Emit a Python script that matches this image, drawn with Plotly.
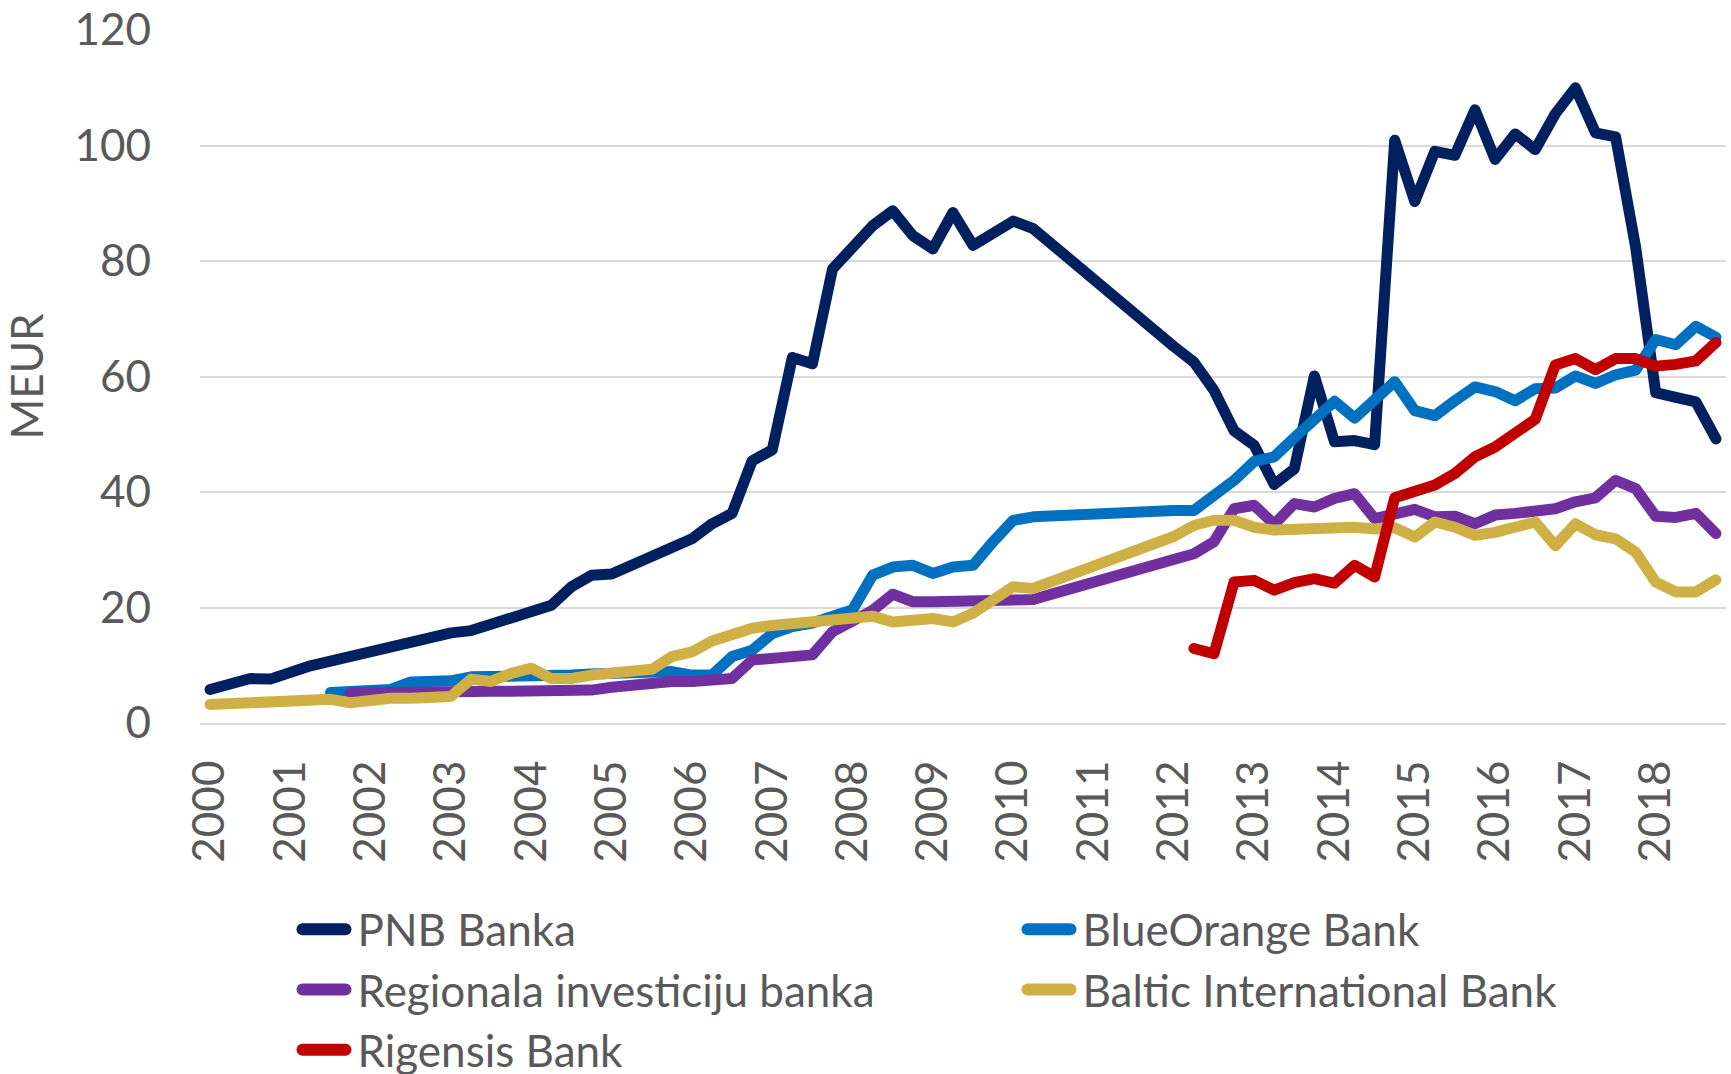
import plotly.graph_objects as go

years = list(range(2000, 2019))
quarters = [f"{y} Q{q}" for y in years for q in range(1, 5)]
tick_vals = [f"{y} Q1" for y in years]
tick_text = [str(y) for y in years]

N = None
pnb = [5.8, 7.0, 7.7, 7.6, 8.9, 9.9, 10.7, 11.5, 12.5, 13.3, 13.8, 14.8, 15.6, 16.0, 17.1, 18.1,
       19.4, 20.4, 23.6, 25.6, 25.8, 27.3, 29.2, 30.2, 31.9, 34.5, 36.3, 45.4, 47.3, 63.3, 62.2, 78.6,
       82.1, 86.1, 88.7, 84.4, 82.1, 88.4, 82.7, 85.0, 86.9, 85.6, 82.6, 79.8, 76.8, 74.0, 71.0, 68.1,
       65.2, 62.5, 57.6, 50.6, 48.1, 41.3, 44.0, 60.1, 48.7, 48.9, 48.2, 100.9, 90.3, 99.0, 98.3, 106.2,
       97.6, 102.0, 99.3, 105.5, 110.0, 102.2, 101.5, 82.4, 57.2, 56.4, 55.6, 49.2]

blueorange = [N, N, N, N, N, N, 5.3, 5.4, 5.6, 5.8, 7.1, 7.2, 7.3, 8.0, 8.0, 8.1,
              8.0, 8.0, 8.3, 8.5, 8.6, 8.7, 8.9, 8.9, 8.3, 8.3, 11.5, 12.6, 15.5, 16.7, 17.3, 18.4,
              19.6, 25.6, 27.0, 27.3, 25.9, 27.0, 27.3, 31.4, 35.1, 35.7, 35.9, 36.0, 36.2, 36.4, 36.5, 36.7,
              36.8, 36.8, 39.3, 42.0, 45.3, 46.1, 49.4, 52.8, 55.7, 52.8, 56.2, 59.1, 54.1, 53.2, 55.8, 58.2,
              57.4, 55.8, 57.9, 58.0, 60.1, 58.8, 60.3, 61.1, 66.4, 65.5, 68.7, 66.8]

regionala = [N, N, N, N, N, N, N, 5.2, 5.3, 5.4, 5.4, 5.4, 5.5, 5.5, 5.5, 5.5,
             5.6, 5.5, 5.5, 5.7, 6.2, 6.6, 7.0, 7.2, 7.2, 7.4, 7.7, 10.9, 11.2, 11.5, 11.8, 15.8,
             17.5, 19.5, 22.3, 21.0, 21.0, 21.2, 21.2, 21.2, 21.3, 21.4, 22.4, 23.4, 24.4, 25.4, 26.4, 27.4,
             28.4, 29.3, 31.4, 37.1, 37.7, 34.4, 38.0, 37.4, 38.9, 39.7, 35.4, 36.0, 37.0, 35.7, 35.8, 34.5,
             36.0, 36.3, 36.5, 37.1, 38.3, 39.0, 42.0, 40.6, 35.8, 35.6, 36.3, 32.8]

baltic = [3.2, 3.3, 3.7, 3.7, 3.5, 3.7, 4.1, 3.5, 4.1, 4.3, 4.3, 4.5, 4.6, 7.6, 7.2, 8.6,
          9.5, 7.7, 7.7, 8.3, 8.7, 9.3, 9.3, 11.5, 12.3, 14.2, 15.2, 16.4, 16.9, 17.2, 17.4, 17.5,
          18.0, 18.5, 17.5, 17.8, 18.1, 17.5, 19.0, 21.3, 23.6, 23.3, 24.6, 25.9, 27.2, 28.5, 29.8, 31.1,
          32.3, 34.2, 35.1, 35.1, 33.9, 33.4, 33.6, 33.9, 33.8, 33.9, 33.6, 33.8, 32.2, 34.8, 33.9, 32.5,
          33.0, 34.0, 34.8, 30.7, 34.5, 32.6, 31.9, 29.6, 24.4, 22.7, 22.7, 24.8]

rigensis = [N] * 49 + [12.9, 12.0, 24.4, 24.7, 23.0, 24.3, 25.0, 24.2, 27.3, 25.3, 39.0, 40.0, 41.2, 43.2,
                      46.1, 47.8, 50.1, 52.6, 62.0, 63.1, 61.2, 63.1, 63.1, 61.8, 62.1, 62.7, 65.9]

series = [
    ("PNB Banka", pnb, "#002060"),
    ("BlueOrange Bank", blueorange, "#0070C0"),
    ("Regionala investiciju banka", regionala, "#7030A0"),
    ("Baltic International Bank", baltic, "#CFB045"),
    ("Rigensis Bank", rigensis, "#C00000"),
]

FONT = "Lato, 'Open Sans', sans-serif"
GREY = "#595959"

fig = go.Figure()
for name, vals, col in series:
    fig.add_trace(go.Scatter(
        x=quarters, y=vals, name=name, mode="lines",
        line=dict(color=col, width=11),
        connectgaps=False,
    ))

fig.update_layout(
    width=1731, height=1074,
    margin=dict(l=200, r=5, t=30, b=351, autoexpand=False),
    paper_bgcolor="white", plot_bgcolor="white",
    font=dict(family=FONT, size=44, color=GREY),
    showlegend=True,
    legend=dict(
        orientation="h", x=0.077, xanchor="left", y=-0.247, yanchor="top",
        entrywidth=680, entrywidthmode="pixels",
        font=dict(family=FONT, size=44, color=GREY),
        bgcolor="rgba(0,0,0,0)", itemwidth=30,
    ),
)
fig.update_xaxes(
    type="category", categoryorder="array", categoryarray=quarters,
    range=[-0.5, len(quarters) - 0.5],
    tickmode="array", tickvals=tick_vals, ticktext=tick_text,
    tickangle=-90, tickfont=dict(family=FONT, size=44, color=GREY),
    showgrid=False, showline=True, linecolor="#d9d9d9", linewidth=2,
    ticks="", ticklabelstandoff=18,
)
fig.update_yaxes(
    range=[0, 120], dtick=20, tick0=0,
    showgrid=True, gridcolor="#d9d9d9", gridwidth=2,
    zeroline=False, showline=False, ticks="",
    tickfont=dict(family=FONT, size=44, color=GREY),
    ticklabelstandoff=48,
    title=dict(text="MEUR", font=dict(family=FONT, size=44, color=GREY), standoff=20),
)

post = """
document.documentElement.style.margin='0';
document.body.style.margin='0';
document.body.style.padding='0';
var gd = document.getElementById('{plot_id}');
function restyleLines(){
  gd.querySelectorAll('.scatterlayer path.js-line').forEach(function(p){
    p.style.strokeLinejoin='round'; p.style.strokeLinecap='round';
  });
  gd.querySelectorAll('.legend [clip-path]').forEach(function(e){
    e.removeAttribute('clip-path');
  });
  gd.querySelectorAll('.legend path.js-line').forEach(function(p){
    p.setAttribute('d','M-15,0h43');
    p.style.strokeWidth='12px'; p.style.strokeLinecap='round';
  });
}
restyleLines();
if (gd.on) { gd.on('plotly_afterplot', restyleLines); }
setTimeout(restyleLines, 50);
setTimeout(restyleLines, 300);
setTimeout(restyleLines, 1000);
"""
fig.write_html("out.html", post_script=post, config={"displayModeBar": False})
